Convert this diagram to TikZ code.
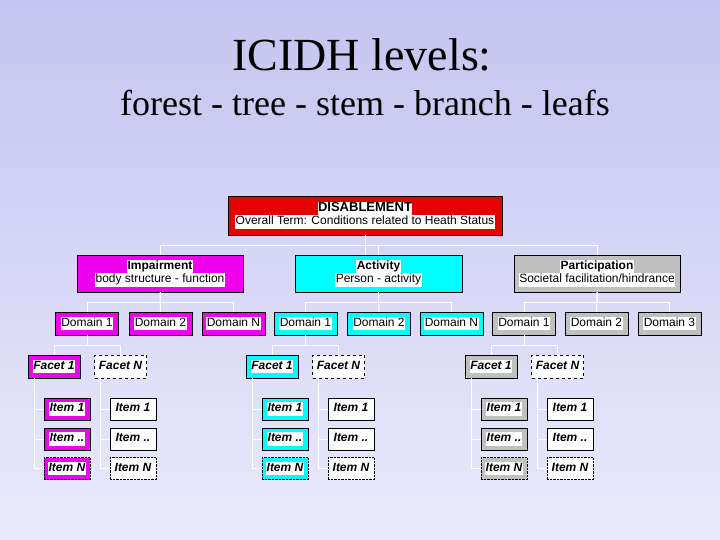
\documentclass[tikz,border=0pt]{standalone}
\usepackage{fontspec}
\setmainfont{Liberation Serif}
\newfontfamily\arial{Liberation Sans}
\definecolor{mag}{RGB}{238,0,238}
\definecolor{cya}{RGB}{0,255,255}
\definecolor{gry}{RGB}{192,192,192}
\definecolor{rd}{RGB}{230,0,0}
\definecolor{bgtop}{RGB}{196,196,240}
\definecolor{bgbot}{RGB}{234,234,252}
\newcommand\hl[1]{{\setlength{\fboxsep}{0.4pt}\colorbox{white}{\strut #1}}}
\tikzset{
 bx/.style={draw=black, fill=#1, inner sep=0pt, font=\arial\fontsize{12}{13}\selectfont, align=center},
 itm/.style={bx=#1, minimum width=46pt, minimum height=22pt, font=\arial\bfseries\itshape\fontsize{12}{13}\selectfont},
 fct/.style={bx=#1, minimum width=52pt, minimum height=23pt, font=\arial\bfseries\itshape\fontsize{12}{13}\selectfont},
 dom/.style={bx=#1, minimum width=63pt, minimum height=23pt},
 con/.style={draw=white, line width=1pt},
}
\newcommand\mybranch[3]{%
 \begin{scope}[xshift=#2pt]
 \node[fct=#3] (#1f1) at (54,366.5) {\hl{Facet 1}};
 \node[fct=white, dashed] (#1fn) at (120.5,366.5) {\hl{Facet N}};
 \node[itm=#3] (#1a1) at (67,409) {\hl{Item 1}};
 \node[itm=#3] (#1a2) at (67,439) {\hl{Item ..}};
 \node[itm=#3, densely dotted] (#1a3) at (67,468.5) {\hl{Item N}};
 \node[itm=white] (#1b1) at (133,409) {\hl{Item 1}};
 \node[itm=white] (#1b2) at (133,439) {\hl{Item ..}};
 \node[itm=white, densely dotted] (#1b3) at (133,468.5) {\hl{Item N}};
 \end{scope}
 \draw[con] (#1d1.south) -- ++(0,10) -| (#1f1.north);
 \draw[con] (#1d1.south) ++(0,10) -| (#1fn.north);
 \draw[con] ([xshift=-20pt]#1f1.south) |- (#1a3.west);
 \draw[con] ([xshift=-20pt]#1f1.south) |- (#1a1.west);
 \draw[con] ([xshift=-20pt]#1f1.south) |- (#1a2.west);
 \draw[con] ([xshift=-20pt]#1fn.south) |- (#1b3.west);
 \draw[con] ([xshift=-20pt]#1fn.south) |- (#1b1.west);
 \draw[con] ([xshift=-20pt]#1fn.south) |- (#1b2.west);
}
\begin{document}
\begin{tikzpicture}[x=1pt,y=-1pt]
\shade[top color=bgtop, bottom color=bgbot] (0,0) rectangle (720,540);
\useasboundingbox (0,0) rectangle (720,540);
\node (t1) at (362,55) {\fontsize{46}{48}\selectfont ICIDH levels:};
\node (t2) at (365,103) {\fontsize{36}{40}\selectfont forest - tree - stem - branch - leafs};
\node[bx=rd, minimum width=274pt, minimum height=39pt] (dis) at (365,215.5)
 {\hl{\bfseries\fontsize{13}{14}\selectfont DISABLEMENT}\\[-2pt]\hl{Overall Term: Conditions related to Heath Status}};
\node[bx=mag, minimum width=166pt, minimum height=37pt] (imp) at (160,273.5) {\hl{\bfseries Impairment}\\[-2pt]\hl{body structure - function}};
\node[bx=cya, minimum width=167pt, minimum height=37pt] (act) at (378.5,273.5) {\hl{\bfseries Activity}\\[-2pt]\hl{Person - activity}};
\node[bx=gry, minimum width=166pt, minimum height=37pt] (par) at (597,273.5) {\hl{\bfseries Participation}\\[-2pt]\hl{Societal facilitation/hindrance}};
\draw[con] (dis.south) -- ++(0,10) -| (imp.north);
\draw[con] (dis.south) ++(0,10) -| (par.north);
\draw[con] (dis.south) ++(0,10) -- (act.north -| dis.south);
\draw[con] (act.north) -- ++(0,-10);
\node[dom=mag] (id1) at (87,323.5) {\hl{Domain 1}};
\node[dom=mag] (id2) at (160.5,323.5) {\hl{Domain 2}};
\node[dom=mag] (idn) at (233.5,323.5) {\hl{Domain N}};
\node[dom=cya] (ad1) at (305.5,323.5) {\hl{Domain 1}};
\node[dom=cya] (ad2) at (379,323.5) {\hl{Domain 2}};
\node[dom=cya] (adn) at (451.5,323.5) {\hl{Domain N}};
\node[dom=gry] (pd1) at (524,323.5) {\hl{Domain 1}};
\node[dom=gry] (pd2) at (596.5,323.5) {\hl{Domain 2}};
\node[dom=gry] (pd3) at (669.5,323.5) {\hl{Domain 3}};
\draw[con] (imp.south) -- ++(0,10) -| (id1.north);
\draw[con] (imp.south) ++(0,10) -| (idn.north);
\draw[con] (imp.south) -- (id2.north);
\draw[con] (act.south) -- ++(0,10) -| (ad1.north);
\draw[con] (act.south) ++(0,10) -| (adn.north);
\draw[con] (act.south) -- (ad2.north);
\draw[con] (par.south) -- ++(0,10) -| (pd1.north);
\draw[con] (par.south) ++(0,10) -| (pd3.north);
\draw[con] (par.south) -- (pd2.north);
\mybranch{i}{0}{mag}
\mybranch{a}{218}{cya}
\mybranch{p}{437}{gry}
\end{tikzpicture}
\end{document}
